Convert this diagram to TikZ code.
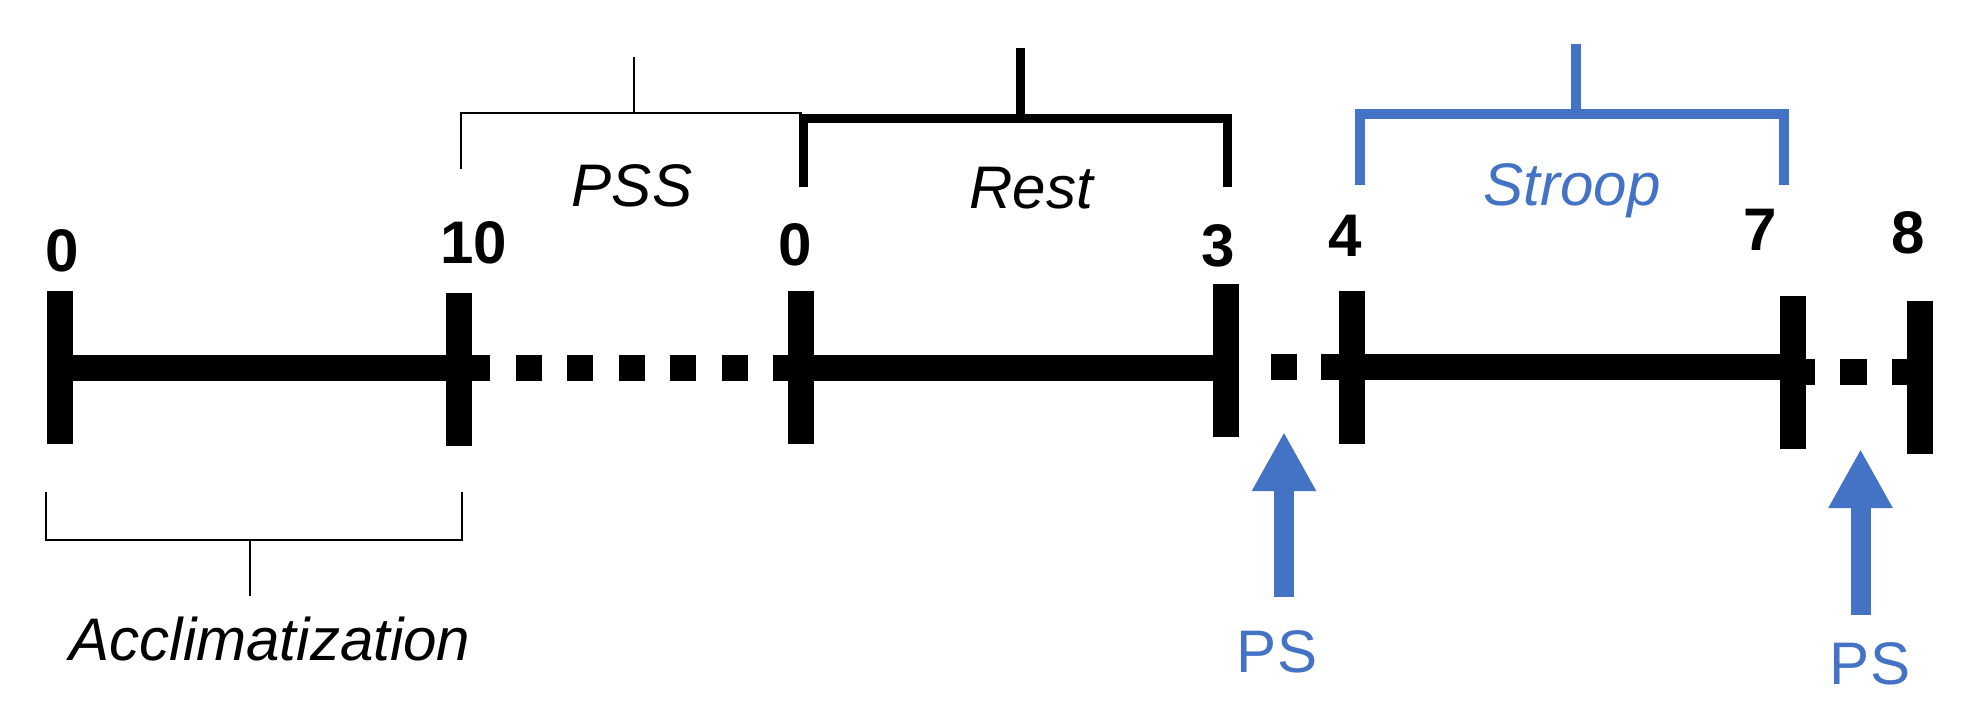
\documentclass[tikz,border=0pt]{standalone}
\usepackage{fontspec}
\setmainfont{Liberation Sans}
\usepackage{xcolor}
\usepackage{tikz}
\usetikzlibrary{arrows.meta}
\definecolor{psblue}{HTML}{4472C4}

\begin{document}
\begin{tikzpicture}[font=\fontsize{17.1}{20}\selectfont,
    tickbar/.style={rectangle,fill=black,inner sep=0pt,minimum width=0.26cm,minimum height=1.53cm},
    axis/.style={line width=0.26cm},
    gap/.style={line width=0.26cm,dash pattern=on 0.26cm off 0.255cm},
    num/.style={anchor=base,font=\fontsize{17.1}{20}\selectfont\bfseries},
    phase/.style={anchor=base,font=\fontsize{17.1}{20}\selectfont\itshape},
    thinbrace/.style={line width=0.025cm},
    thickbrace/.style={line width=0.09cm},
    bluebrace/.style={psblue,line width=0.10cm},
    psarrow/.style={psblue,line width=0.2cm,-{Triangle[length=0.59cm,width=0.6cm]}}]
    \useasboundingbox (0,0) rectangle (19.61,7.09);

    % ticks on the time line
    \node[tickbar] (t0) at (0.60,3.415) {};
    \node[tickbar] (t10) at (4.59,3.395) {};
    \node[tickbar] (t0b) at (8.01,3.415) {};
    \node[tickbar] (t3) at (12.26,3.49) {};
    \node[tickbar] (t4) at (13.52,3.42) {};
    \node[tickbar] (t7) at (17.93,3.37) {};
    \node[tickbar] (t8) at (19.20,3.32) {};

    % time line
    \draw[axis] (t0.center) -- (t0.center -| t10.center);
    \draw[gap,dash phase=0.465cm] (t10.center |- t0.center) -- (t0b.center);
    \draw[axis] (t0b.center) -- (t0b.center -| t3.center);
    \draw[axis,dash pattern=on 0pt off 0.45cm on 0.26cm off 0.24cm on 0.5cm] (t3.center |- t4.center) -- (t4.center);
    \draw[axis] (t4.center) -- (t4.center -| t7.center);
    \draw[gap,dash pattern=on 0.27cm off 0.25cm,dash phase=0.05cm] (t7.center) -- (t7.center -| t8.center);

    % minutes
    \node[num] (n0) at (0.62,4.38) {0};
    \node[num] (n10) at (4.74,4.46) {10};
    \node[num] (n0b) at (7.95,4.44) {0};
    \node[num] (n3) at (12.18,4.43) {3};
    \node[num] (n4) at (13.45,4.53) {4};
    \node[num] (n7) at (17.60,4.59) {7};
    \node[num] (n8) at (19.08,4.56) {8};

    % phases
    \node[phase] (accl) at (2.70,0.49) {Acclimatization};
    \coordinate (acL) at (0.46,2.17);
    \coordinate (acR) at (4.62,2.17);
    \coordinate (acS) at (2.50,1.69);
    \draw[thinbrace] (acL) -- ++(0,-0.48) -| (acR);
    \draw[thinbrace,shorten >=0.08cm] (acS) -- (acS |- accl.north);

    \node[phase] (pss) at (6.32,5.03) {PSS};
    \coordinate (pssL) at (4.61,5.40);
    \coordinate (pssS) at (6.34,5.96);
    \draw[thinbrace] (pssL) |- (8.02,5.96);
    \draw[thinbrace] (pssS) -- ++(0,0.56);

    \node[phase] (rest) at (10.31,5.01) {Rest};
    \coordinate (restL) at (8.03,5.22);
    \coordinate (restR) at (12.27,5.22);
    \coordinate (restS) at (10.20,5.91);
    \draw[thickbrace] (restL) -- ++(0,0.69) -| (restR);
    \draw[thickbrace] (restS) -- ++(0,0.70);

    \node[phase,text=psblue] (stroop) at (15.72,5.04) {Stroop};
    \coordinate (strL) at (13.595,5.24);
    \coordinate (strR) at (17.835,5.24);
    \coordinate (strS) at (15.76,5.95);
    \draw[bluebrace] (strL) -- ++(0,0.71) -| (strR);
    \draw[bluebrace] (strS) -- ++(0,0.70);

    % PS markers
    \node[anchor=base,text=psblue] (ps1) at (12.77,0.37) {PS};
    \node[anchor=base,text=psblue] (ps2) at (18.70,0.25) {PS};
    \coordinate (tip1) at (12.84,2.77);
    \coordinate (tip2) at (18.605,2.60);
    \draw[psarrow,shorten <=0.21cm] (tip1 |- ps1.north) -- (tip1);
    \draw[psarrow,shorten <=0.15cm] (tip2 |- ps2.north) -- (tip2);
\end{tikzpicture}
\end{document}
